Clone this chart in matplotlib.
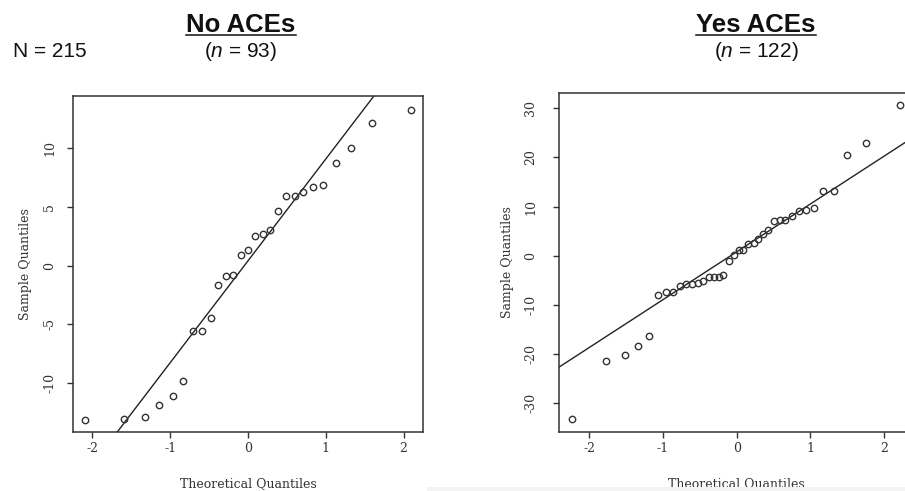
import matplotlib
matplotlib.use("Agg")
import matplotlib.pyplot as plt
from matplotlib.lines import Line2D
from matplotlib.patches import Rectangle

# Normal Q-Q data: theoretical quantiles (x) vs sample quantiles (y)
no_aces_theoretical = [-2.09, -1.60, -1.32, -1.14, -0.97, -0.83, -0.71, -0.59, -0.48,
                       -0.38, -0.28, -0.19, -0.09, 0.00, 0.09, 0.19, 0.28, 0.38,
                       0.49, 0.60, 0.71, 0.83, 0.97, 1.13, 1.33, 1.60, 2.09]
no_aces_sample = [-13.18, -13.10, -12.87, -11.88, -11.14, -9.83, -5.57, -5.54, -4.46,
                  -1.68, -0.91, -0.77, 0.94, 1.31, 2.53, 2.67, 3.07, 4.66,
                  5.91, 5.97, 6.28, 6.68, 6.90, 8.75, 10.06, 12.19, 13.30]
no_aces_line = (0.41, 8.68)   # intercept, slope of the reference line

yes_aces_theoretical = [-2.23, -1.77, -1.52, -1.34, -1.19, -1.07, -0.96, -0.86, -0.77,
                        -0.69, -0.60, -0.53, -0.45, -0.38, -0.31, -0.24, -0.18, -0.11,
                        -0.04, 0.03, 0.09, 0.16, 0.23, 0.29, 0.36, 0.43, 0.51,
                        0.59, 0.66, 0.75, 0.84, 0.94, 1.05, 1.17, 1.32, 1.50,
                        1.75, 2.21]
yes_aces_sample = [-33.3, -21.36, -20.27, -18.31, -16.41, -8.0, -7.46, -7.32, -6.17,
                   -5.83, -5.76, -5.63, -5.08, -4.41, -4.34, -4.27, -4.0, -1.02,
                   0.2, 1.08, 1.22, 2.31, 2.58, 3.39, 4.34, 5.29, 7.12,
                   7.25, 7.25, 8.07, 9.08, 9.22, 9.76, 13.08, 13.08, 20.41,
                   22.98, 30.64]
yes_aces_line = (0.78, 9.73)

no_yticks = [-10, -5, 0, 5, 10]
yes_yticks = [-30, -20, -10, 0, 10, 20, 30]
xticks = [-2, -1, 0, 1, 2]

W, H = 905, 491
fig = plt.figure(figsize=(W / 100, H / 100), dpi=100)
fig.patch.set_facecolor("white")

plt.rcParams["mathtext.fontset"] = "custom"
plt.rcParams["mathtext.rm"] = "Liberation Sans"
plt.rcParams["mathtext.it"] = "Liberation Sans:italic"

INK = "#333333"
SERIF = "DejaVu Serif"
SANS = "Liberation Sans"


def px_axes(x0, y0, x1, y1):
    """Axes placed by pixel box (left, top, right, bottom)."""
    return fig.add_axes([x0 / W, 1 - y1 / H, (x1 - x0) / W, (y1 - y0) / H])


def qq_panel(ax, box, xs, ys, line, xlim, ylim, yticks, ypad, ylab_x):
    left, top, right, bottom = box
    ax.plot(xs, ys, linestyle="none", marker="o", markersize=4.6,
            markerfacecolor="none", markeredgecolor=INK, markeredgewidth=1.0,
            clip_on=False, zorder=3)
    ax.axline((0, line[0]), slope=line[1], color="#222222", linewidth=1.0, zorder=2)
    ax.set_xlim(*xlim)
    ax.set_ylim(*ylim)
    ax.set_xticks(xticks)
    ax.set_xticklabels([str(t) for t in xticks])
    ax.set_yticks(yticks)
    ax.set_yticklabels([str(t) for t in yticks], rotation=90, va="center")
    for s in ax.spines.values():
        s.set_color(INK)
        s.set_linewidth(1.1)
    ax.tick_params(axis="both", direction="out", length=4.5, width=1.0,
                   color=INK, labelcolor=INK, labelsize=9)
    ax.tick_params(axis="x", pad=3)
    ax.tick_params(axis="y", pad=ypad)
    for lab in ax.get_xticklabels() + ax.get_yticklabels():
        lab.set_family(SERIF)
    ax.set_xlabel("Theoretical Quantiles", family=SERIF, fontsize=9, color=INK,
                  va="center")
    ax.set_ylabel("Sample Quantiles", family=SERIF, fontsize=9, color=INK,
                  va="center")
    ax.yaxis.set_label_coords((ylab_x - left) / (right - left), 0.5)
    ax.xaxis.set_label_coords(0.5, -(484 - bottom) / (bottom - top))


box1 = (73, 96, 423, 432)
ax1 = px_axes(*box1)
qq_panel(ax1, box1, no_aces_theoretical, no_aces_sample, no_aces_line,
         (-2.25, 2.25), (-14.18, 14.46), no_yticks, 7.5, 25)

box2 = (559, 92.7, 912.8, 431.7)
ax2 = px_axes(*box2)
qq_panel(ax2, box2, yes_aces_theoretical, yes_aces_sample, yes_aces_line,
         (-2.41, 2.39), (-35.8, 33.15), yes_yticks, 11, 507.5)

# faint band along the lower edge
fig.patches.append(Rectangle((427 / W, 0), 1 - 427 / W, 4.5 / H, transform=fig.transFigure,
                             facecolor="#f3f3f3", edgecolor="none", zorder=0))

titles = [("No ACEs", r"($n$ = 93)", 241), ("Yes ACEs", r"($n$ = 122)", 756)]
head_texts = []
for head, sub, cx in titles:
    t = fig.text(cx / W, 1 - 32 / H, head, family=SANS, fontweight="bold",
                 fontsize=18.5, ha="center", va="baseline", color="#111111")
    fig.text(cx / W, 1 - 57 / H, sub, family=SANS, fontsize=15,
             ha="center", va="baseline", color="#111111")
    head_texts.append(t)

fig.text(13 / W, 1 - 57 / H, "N = 215", family=SANS, fontsize=15,
         ha="left", va="baseline", color="#111111")

# underline the group headings
fig.canvas.draw()
renderer = fig.canvas.get_renderer()
for t in head_texts:
    bb = t.get_window_extent(renderer)
    y = 1 - 34.5 / H
    fig.add_artist(Line2D([bb.x0 / W, bb.x1 / W], [y, y], transform=fig.transFigure,
                          color="#111111", linewidth=1.1))

fig.savefig("out.png", dpi=100)
